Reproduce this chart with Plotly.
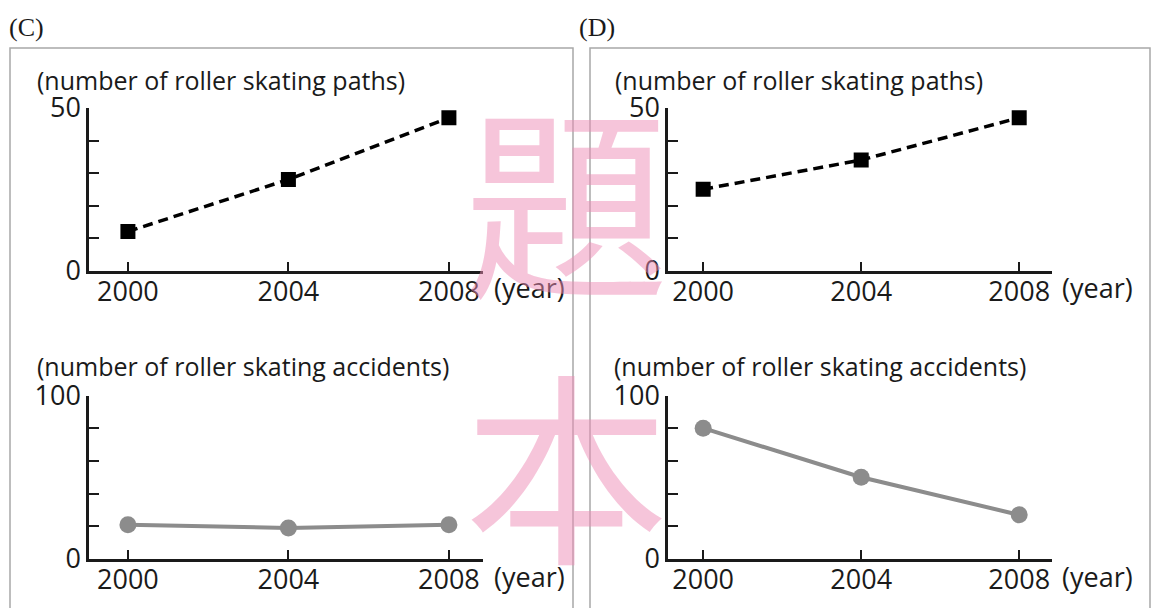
import plotly.graph_objects as go

# ---- data -------------------------------------------------------------
years = [2000, 2004, 2008]
year_ticks = ["2000", "2004", "2008"]

paths_c = [12, 28, 47]          # (C) number of roller skating paths
accidents_c = [21, 19, 21]      # (C) number of roller skating accidents
paths_d = [25, 34, 47]          # (D) number of roller skating paths
accidents_d = [80, 50, 27]      # (D) number of roller skating accidents

paths_ticks = [0, 10, 20, 30, 40, 50]
paths_labels = ["0", "", "", "", "", "50"]
acc_ticks = [0, 20, 40, 60, 80, 100]
acc_labels = ["0", "", "", "", "", "100"]

# ---- page geometry (pixel helpers) -----------------------------------
W, H = 1152, 608


def fx(px):
    return px / W


def fy(py):
    return 1 - py / H


FONT = "Open Sans"
INK = "#1a1a1a"
TICK_FONT = dict(family=FONT, size=27, color=INK)
PATH_STYLE = dict(mode="lines+markers",
                  line=dict(color="black", width=3.5, dash="10px,6px"),
                  marker=dict(symbol="square", size=15, color="black"))
ACC_STYLE = dict(mode="lines+markers",
                 line=dict(color="#8c8c8c", width=4),
                 marker=dict(symbol="circle", size=17, color="#8c8c8c"))

fig = go.Figure()
fig.add_trace(go.Scatter(x=years, y=paths_c, xaxis="x", yaxis="y", **PATH_STYLE))
fig.add_trace(go.Scatter(x=years, y=accidents_c, xaxis="x2", yaxis="y2", **ACC_STYLE))
fig.add_trace(go.Scatter(x=years, y=paths_d, xaxis="x3", yaxis="y3", **PATH_STYLE))
fig.add_trace(go.Scatter(x=years, y=accidents_d, xaxis="x4", yaxis="y4", **ACC_STYLE))


def xaxis(dom, rng, anchor):
    return dict(domain=dom, range=rng, anchor=anchor, tickvals=years,
                ticktext=year_ticks, showline=True, linecolor=INK,
                linewidth=2.5, ticks="inside", ticklen=9, tickwidth=2,
                tickcolor=INK, showgrid=False, zeroline=False,
                tickfont=TICK_FONT, ticklabelstandoff=-5,
                automargin=False, fixedrange=True)


def yaxis(dom, rng, anchor, tv, tt):
    return dict(domain=dom, range=rng, anchor=anchor, tickvals=tv,
                ticktext=tt, showline=True, linecolor=INK,
                linewidth=2.5, ticks="inside", ticklen=10, tickwidth=2,
                tickcolor=INK, showgrid=False, zeroline=False,
                tickfont=TICK_FONT, ticklabelstandoff=0, automargin=False,
                fixedrange=True)


xc = [fx(89), fx(483)]
xd = [fx(668), fx(1052)]
y_top = [fy(270.5), fy(108)]
y_bot = [fy(559), fy(395.5)]

fig.update_layout(
    xaxis=xaxis(xc, [1999.03, 2008.85], "y"),
    yaxis=yaxis(y_top, [0, 50], "x", paths_ticks, paths_labels),
    xaxis2=xaxis(xc, [1999.03, 2008.85], "y2"),
    yaxis2=yaxis(y_bot, [0, 100], "x2", acc_ticks, acc_labels),
    xaxis3=xaxis(xd, [1999.11, 2008.83], "y3"),
    yaxis3=yaxis(y_top, [0, 50], "x3", paths_ticks, paths_labels),
    xaxis4=xaxis(xd, [1999.11, 2008.83], "y4"),
    yaxis4=yaxis(y_bot, [0, 100], "x4", acc_ticks, acc_labels),
)

# ---- panel frames ------------------------------------------------------
frame = dict(type="rect", xref="paper", yref="paper",
             line=dict(color="#a8a8a8", width=1.5), fillcolor="rgba(0,0,0,0)",
             layer="below")
fig.add_shape(x0=fx(10), x1=fx(573), y0=fy(625), y1=fy(48), **frame)
fig.add_shape(x0=fx(590), x1=fx(1150), y0=fy(625), y1=fy(48), **frame)

# ---- text --------------------------------------------------------------
ann = []


def text(s, px, py, size, family=FONT, xanchor="left", color=INK):
    ann.append(dict(text=s, x=fx(px), y=fy(py), xref="paper", yref="paper",
                    xanchor=xanchor, yanchor="middle", showarrow=False,
                    font=dict(family=family, size=size, color=color)))


text("(C)", 7, 27, 26, family="Liberation Serif")
text("(D)", 577, 27, 26, family="Liberation Serif")
text("(number of roller skating paths)", 35, 80, 25)
text("(number of roller skating accidents)", 35, 366, 25)
text("(number of roller skating paths)", 613, 80, 25)
text("(number of roller skating accidents)", 612, 366, 25)
for px in (492, 1060):
    text("(year)", px, 287, 27)
    text("(year)", px, 576, 27)

# faint stamp across the middle of the page
for ch, py in (("題", 192), ("本", 458)):
    ann.append(dict(text=ch, x=fx(566), y=fy(py), xref="paper", yref="paper",
                    xanchor="center", yanchor="middle", showarrow=False,
                    font=dict(family="Noto Sans CJK TC", size=205,
                              color="rgba(238,140,182,0.5)")))

fig.update_layout(
    annotations=ann,
    width=W, height=H,
    margin=dict(l=0, r=0, t=0, b=0, pad=0),
    paper_bgcolor="white", plot_bgcolor="rgba(0,0,0,0)",
    showlegend=False,
)

fig.write_html("out.html", config={"displayModeBar": False})
